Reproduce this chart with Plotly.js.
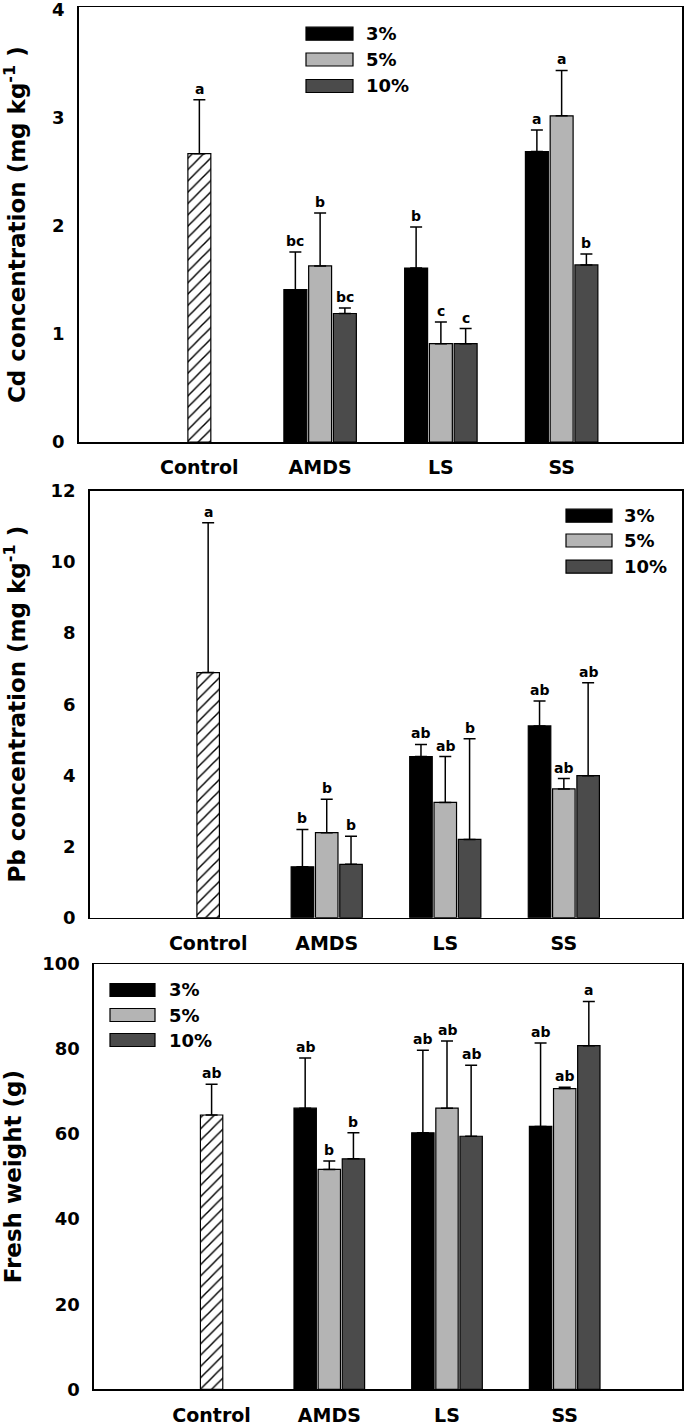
<!DOCTYPE html>
<html>
<head>
<meta charset="utf-8">
<script src="https://cdn.plot.ly/plotly-3.0.1.min.js"></script>
<style>html,body{margin:0;padding:0;background:#fff;}#chart{width:685px;height:1426px;}</style>
</head>
<body>
<div id="chart"></div>
<script>
// ---------- data ----------
const categories = ['Control', 'AMDS', 'LS', 'SS'];
const treatments = ['AMDS', 'LS', 'SS'];
const seriesNames = ['3%', '5%', '10%'];

// Cd concentration (mg kg-1)
const cdControl = [2.67];
const cdControlErr = [0.50];
const cdControlLetters = ['a'];
const cd3 = [1.41, 1.61, 2.69];
const cd3Err = [0.35, 0.38, 0.20];
const cd3Letters = ['bc', 'b', 'a'];
const cd5 = [1.63, 0.91, 3.02];
const cd5Err = [0.49, 0.20, 0.42];
const cd5Letters = ['b', 'c', 'a'];
const cd10 = [1.19, 0.91, 1.64];
const cd10Err = [0.05, 0.14, 0.10];
const cd10Letters = ['bc', 'c', 'b'];

// Pb concentration (mg kg-1)
const pbControl = [6.89];
const pbControlErr = [4.21];
const pbControlLetters = ['a'];
const pb3 = [1.43, 4.53, 5.39];
const pb3Err = [1.05, 0.34, 0.70];
const pb3Letters = ['b', 'ab', 'ab'];
const pb5 = [2.39, 3.24, 3.62];
const pb5Err = [0.94, 1.29, 0.29];
const pb5Letters = ['b', 'ab', 'ab'];
const pb10 = [1.50, 2.20, 3.99];
const pb10Err = [0.79, 2.83, 2.61];
const pb10Letters = ['b', 'b', 'ab'];

// Fresh weight (g)
const fwControl = [64.5];
const fwControlErr = [7.2];
const fwControlLetters = ['ab'];
const fw3 = [66.1, 60.3, 61.8];
const fw3Err = [11.8, 19.4, 19.6];
const fw3Letters = ['ab', 'ab', 'ab'];
const fw5 = [51.7, 66.1, 70.7];
const fw5Err = [2.0, 15.8, 0.3];
const fw5Letters = ['b', 'ab', 'ab'];
const fw10 = [54.2, 59.5, 80.8];
const fw10Err = [6.1, 16.7, 10.4];
const fw10Letters = ['b', 'ab', 'a'];

const yTitles = ['Cd concentration (mg kg<sup>-1</sup> )', 'Pb concentration (mg kg<sup>-1</sup> )', 'Fresh weight (g)'];
const yRanges = [[0, 4.025], [0, 12], [0, 100]];
const yDticks = [1, 2, 20];

// ---------- styling / layout ----------
const W = 685, H = 1426;
const px = x => x / W;
const py = y => 1 - y / H;
const FONT = 'DejaVu Sans, Liberation Sans, Arial, sans-serif';
const seriesColors = ['#000000', '#b4b4b4', '#4b4b4b'];
const barW = 0.19;
const centers = [-0.205, 0, 0.205];

const panels = [
  {data: [[cd3, cd3Err, cd3Letters], [cd5, cd5Err, cd5Letters], [cd10, cd10Err, cd10Letters]],
   ctrl: [cdControl, cdControlErr, cdControlLetters],
   left: 78.6, right: 682.4, top: 7.3, bottom: 442, standoff: 24,
   legend: {x0: 306, x1: 353, text: 364, rows: [33.7, 59.5, 86]}},
  {data: [[pb3, pb3Err, pb3Letters], [pb5, pb5Err, pb5Letters], [pb10, pb10Err, pb10Letters]],
   ctrl: [pbControl, pbControlErr, pbControlLetters],
   left: 89.6, right: 682.4, top: 490.7, bottom: 917.7, standoff: 20,
   legend: {x0: 566, x1: 612, text: 622, rows: [515.7, 540.5, 566.7]}},
  {data: [[fw3, fw3Err, fw3Letters], [fw5, fw5Err, fw5Letters], [fw10, fw10Err, fw10Letters]],
   ctrl: [fwControl, fwControlErr, fwControlLetters],
   left: 93.9, right: 682.4, top: 964, bottom: 1389.3, standoff: 16,
   legend: {x0: 110, x1: 155, text: 167, rows: [990, 1015, 1040]}}
];

const traces = [];
const annotations = [];
const shapes = [];
const layout = {
  width: W, height: H,
  margin: {l: 0, r: 0, t: 0, b: 0},
  paper_bgcolor: '#ffffff', plot_bgcolor: '#ffffff',
  showlegend: false, barmode: 'overlay',
  font: {family: FONT, color: '#000', size: 14}
};

panels.forEach((p, i) => {
  const s = i === 0 ? '' : String(i + 1);
  const xref = 'x' + s, yref = 'y' + s;
  layout['xaxis' + s] = {
    type: 'category', categoryorder: 'array', categoryarray: categories,
    range: [-1, 4], domain: [px(p.left), px(p.right)], anchor: yref,
    showline: true, mirror: true, linecolor: '#000', linewidth: 1.5,
    showgrid: false, zeroline: false, ticks: '', ticklabelstandoff: 8,
    ticklabeloverflow: 'allow',
    tickfont: {family: FONT, size: 19, color: '#000', weight: 'bold'}, fixedrange: true
  };
  layout['yaxis' + s] = {
    range: yRanges[i], dtick: yDticks[i], tick0: 0,
    domain: [py(p.bottom), py(p.top)], anchor: xref,
    showline: true, mirror: true, linecolor: '#000', linewidth: 1.5,
    showgrid: false, zeroline: false, ticks: '', ticklabelstandoff: 9,
    ticklabeloverflow: 'allow',
    tickfont: {family: FONT, size: 18, color: '#000', weight: 'bold'},
    title: {text: yTitles[i], standoff: p.standoff,
            font: {family: FONT, size: 23, color: '#000', weight: 'bold'}},
    fixedrange: true
  };

  // control bar (hatched)
  const [cv, ce, cl] = p.ctrl;
  traces.push({
    type: 'bar', x: ['Control'], y: cv, xaxis: xref, yaxis: yref,
    width: barW, offset: -barW / 2,
    marker: {color: '#ffffff', line: {color: '#000', width: 1.2},
             pattern: {shape: '/', fgcolor: '#000', bgcolor: '#ffffff', size: 8, solidity: 0.18}},
    error_y: {type: 'data', symmetric: false, array: ce, arrayminus: ce.map(() => 0),
              color: '#000', thickness: 1.5, width: 6},
    hoverinfo: 'skip'
  });
  annotations.push({xref: xref, yref: yref, x: 0, y: cv[0] + ce[0], text: cl[0],
    showarrow: false, yanchor: 'bottom', yshift: 1,
    font: {family: FONT, size: 14, color: '#000', weight: 'bold'}});

  p.data.forEach((d, k) => {
    const [vals, errs, letters] = d;
    traces.push({
      type: 'bar', name: seriesNames[k], x: treatments, y: vals, xaxis: xref, yaxis: yref,
      width: barW, offset: centers[k] - barW / 2,
      marker: {color: seriesColors[k], line: {color: '#000', width: 1.2}},
      error_y: {type: 'data', symmetric: false, array: errs, arrayminus: errs.map(() => 0),
                color: '#000', thickness: 1.5, width: 6},
      hoverinfo: 'skip'
    });
    treatments.forEach((t, j) => {
      annotations.push({xref: xref, yref: yref, x: categories.indexOf(t) + centers[k],
        y: vals[j] + errs[j], text: letters[j], showarrow: false, yanchor: 'bottom', yshift: 1,
        font: {family: FONT, size: 14, color: '#000', weight: 'bold'}});
    });
    // legend entry
    const L = p.legend, yc = L.rows[k];
    shapes.push({type: 'rect', xref: 'paper', yref: 'paper',
      x0: px(L.x0), x1: px(L.x1), y0: py(yc + 6.5), y1: py(yc - 6.5),
      fillcolor: seriesColors[k], line: {color: '#000', width: 1.2}});
    annotations.push({xref: 'paper', yref: 'paper', x: px(L.text), y: py(yc),
      text: seriesNames[k], showarrow: false, xanchor: 'left', yanchor: 'middle',
      font: {family: FONT, size: 18, color: '#000', weight: 'bold'}});
  });
});

layout.annotations = annotations;
layout.shapes = shapes;

Plotly.newPlot('chart', traces, layout, {staticPlot: true, displayModeBar: false});
</script>
</body>
</html>
